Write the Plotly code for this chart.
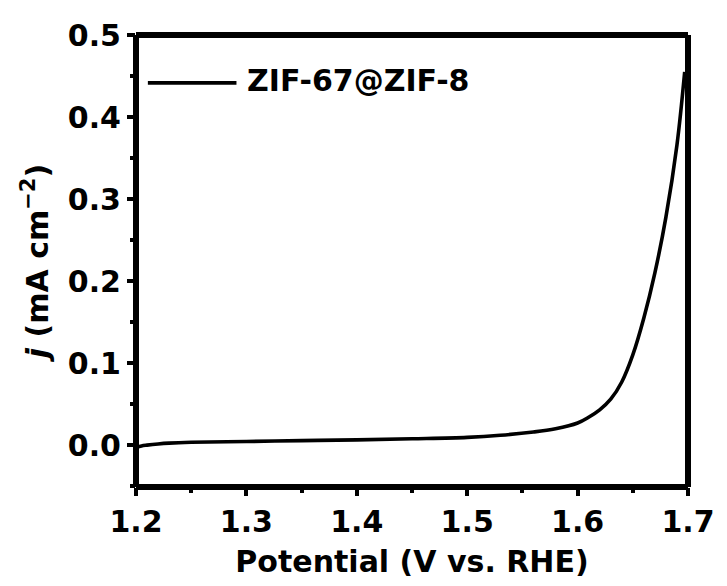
import plotly.graph_objects as go

potential = [1.200, 1.205, 1.210, 1.220, 1.230, 1.250, 1.300, 1.350, 1.400, 1.450,
             1.500, 1.530, 1.560, 1.580, 1.600, 1.610, 1.620, 1.630, 1.640, 1.650,
             1.660, 1.670, 1.680, 1.690, 1.697]
current = [-0.003, -0.001, 0.000, 0.0015, 0.0025, 0.0035, 0.0045, 0.0055, 0.0065, 0.0078,
           0.0095, 0.012, 0.016, 0.020, 0.027, 0.034, 0.043, 0.056, 0.077, 0.110,
           0.155, 0.210, 0.278, 0.366, 0.455]
series_name = "ZIF-67@ZIF-8"
x_ticks = [1.2, 1.3, 1.4, 1.5, 1.6, 1.7]
y_ticks = [0.0, 0.1, 0.2, 0.3, 0.4, 0.5]

FONT = "DejaVu Sans"

fig = go.Figure()
fig.add_trace(go.Scatter(x=potential, y=current, mode="lines", name=series_name,
                         line=dict(color="black", width=3.6, shape="spline", smoothing=1.0),
                         showlegend=False))

axis_common = dict(showline=False, mirror=False,
                   ticks="outside", ticklen=8, tickwidth=4, tickcolor="black",
                   showgrid=False, zeroline=False,
                   tickfont=dict(family=FONT, size=30, color="black", weight="bold"))

fig.update_xaxes(range=[1.2, 1.7], tickvals=x_ticks, ticktext=[f"{v:.1f}" for v in x_ticks],
                 minor=dict(ticks="outside", ticklen=5, tickwidth=3.5, tickcolor="black", dtick=0.05),
                 title=dict(text="Potential (V vs. RHE)", standoff=12,
                            font=dict(family=FONT, size=30, color="black", weight="bold")),
                 **axis_common)
fig.update_yaxes(range=[-0.051, 0.5], tickvals=y_ticks, ticktext=[f"{v:.1f}" for v in y_ticks],
                 minor=dict(ticks="outside", ticklen=5, tickwidth=3.5, tickcolor="black", dtick=0.05),
                 title=dict(text="<i>j</i> (mA cm<sup>\u22122</sup>)", standoff=10,
                            font=dict(family=FONT, size=30, color="black", weight="bold")),
                 **axis_common)

# plot frame (thick border) drawn as four paper-referenced lines
for (x0, y0, x1, y1) in [(0, 0, 1, 0), (0, 1, 1, 1), (0, 0, 0, 1), (1, 0, 1, 1)]:
    fig.add_shape(type="line", xref="paper", yref="paper", x0=x0, x1=x1, y0=y0, y1=y1,
                  line=dict(color="black", width=6), layer="above")

# legend drawn manually
fig.add_shape(type="line", xref="paper", yref="paper", x0=0.0215, x1=0.182, y0=0.894, y1=0.894,
              line=dict(color="black", width=3.6))
fig.add_annotation(xref="paper", yref="paper", x=0.198, y=0.9, xanchor="left", yanchor="middle",
                   text=series_name, showarrow=False,
                   font=dict(family=FONT, size=30, color="black", weight="bold"))

fig.update_layout(width=727, height=586, margin=dict(l=136, r=32, t=35, b=99),
                  paper_bgcolor="white", plot_bgcolor="white")

fig.write_html("out.html")
